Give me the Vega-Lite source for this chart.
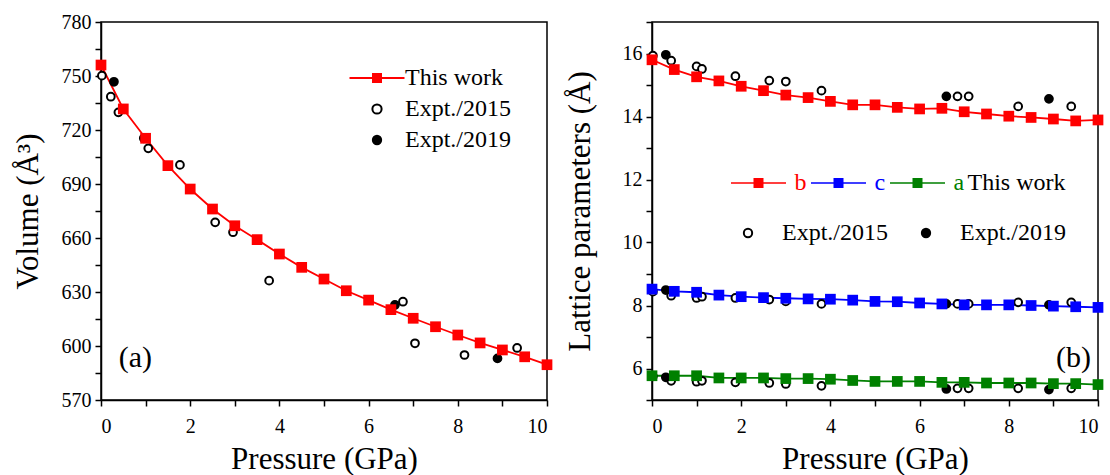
{
  "$schema": "https://vega.github.io/schema/vega-lite/v6.json",
  "background": "white",
  "padding": {"left": 11, "top": 11, "right": 0, "bottom": 0},
  "autosize": {"type": "pad"},
  "spacing": 105,
  "bounds": "flush",
  "datasets": {
    "vol": [
      {"p": 0, "v": 756.1, "src": "This work"},
      {"p": 0.5, "v": 731.7, "src": "This work"},
      {"p": 1, "v": 715.4, "src": "This work"},
      {"p": 1.5, "v": 700.2, "src": "This work"},
      {"p": 2, "v": 687.2, "src": "This work"},
      {"p": 2.5, "v": 676.1, "src": "This work"},
      {"p": 3, "v": 666.8, "src": "This work"},
      {"p": 3.5, "v": 659.1, "src": "This work"},
      {"p": 4, "v": 651.1, "src": "This work"},
      {"p": 4.5, "v": 643.7, "src": "This work"},
      {"p": 5, "v": 637.2, "src": "This work"},
      {"p": 5.5, "v": 630.7, "src": "This work"},
      {"p": 6, "v": 625.5, "src": "This work"},
      {"p": 6.5, "v": 620.2, "src": "This work"},
      {"p": 7, "v": 615.4, "src": "This work"},
      {"p": 7.5, "v": 610.7, "src": "This work"},
      {"p": 8, "v": 606.1, "src": "This work"},
      {"p": 8.5, "v": 601.7, "src": "This work"},
      {"p": 9, "v": 597.8, "src": "This work"},
      {"p": 9.5, "v": 594.0, "src": "This work"},
      {"p": 10, "v": 589.6, "src": "This work"},
      {"p": 0.02, "v": 750.2, "src": "Expt./2015"},
      {"p": 0.22, "v": 738.5, "src": "Expt./2015"},
      {"p": 0.39, "v": 729.8, "src": "Expt./2015"},
      {"p": 0.96, "v": 715.4, "src": "Expt./2015"},
      {"p": 1.06, "v": 709.8, "src": "Expt./2015"},
      {"p": 1.77, "v": 700.6, "src": "Expt./2015"},
      {"p": 2.56, "v": 668.7, "src": "Expt./2015"},
      {"p": 2.96, "v": 663.2, "src": "Expt./2015"},
      {"p": 3.77, "v": 636.3, "src": "Expt./2015"},
      {"p": 6.77, "v": 624.6, "src": "Expt./2015"},
      {"p": 7.04, "v": 601.5, "src": "Expt./2015"},
      {"p": 8.15, "v": 595.0, "src": "Expt./2015"},
      {"p": 9.33, "v": 598.9, "src": "Expt./2015"},
      {"p": 0.29, "v": 746.8, "src": "Expt./2019"},
      {"p": 6.59, "v": 622.8, "src": "Expt./2019"},
      {"p": 8.89, "v": 593.1, "src": "Expt./2019"}
    ],
    "lat": [
      {"p": 0, "v": 15.80, "param": "b", "src": "This work"},
      {"p": 0.5, "v": 15.49, "param": "b", "src": "This work"},
      {"p": 1, "v": 15.26, "param": "b", "src": "This work"},
      {"p": 1.5, "v": 15.13, "param": "b", "src": "This work"},
      {"p": 2, "v": 14.96, "param": "b", "src": "This work"},
      {"p": 2.5, "v": 14.82, "param": "b", "src": "This work"},
      {"p": 3, "v": 14.68, "param": "b", "src": "This work"},
      {"p": 3.5, "v": 14.60, "param": "b", "src": "This work"},
      {"p": 4, "v": 14.48, "param": "b", "src": "This work"},
      {"p": 4.5, "v": 14.37, "param": "b", "src": "This work"},
      {"p": 5, "v": 14.37, "param": "b", "src": "This work"},
      {"p": 5.5, "v": 14.29, "param": "b", "src": "This work"},
      {"p": 6, "v": 14.24, "param": "b", "src": "This work"},
      {"p": 6.5, "v": 14.26, "param": "b", "src": "This work"},
      {"p": 7, "v": 14.15, "param": "b", "src": "This work"},
      {"p": 7.5, "v": 14.08, "param": "b", "src": "This work"},
      {"p": 8, "v": 14.01, "param": "b", "src": "This work"},
      {"p": 8.5, "v": 13.97, "param": "b", "src": "This work"},
      {"p": 9, "v": 13.92, "param": "b", "src": "This work"},
      {"p": 9.5, "v": 13.86, "param": "b", "src": "This work"},
      {"p": 10, "v": 13.89, "param": "b", "src": "This work"},
      {"p": 0, "v": 8.52, "param": "c", "src": "This work"},
      {"p": 0.5, "v": 8.45, "param": "c", "src": "This work"},
      {"p": 1, "v": 8.42, "param": "c", "src": "This work"},
      {"p": 1.5, "v": 8.33, "param": "c", "src": "This work"},
      {"p": 2, "v": 8.28, "param": "c", "src": "This work"},
      {"p": 2.5, "v": 8.25, "param": "c", "src": "This work"},
      {"p": 3, "v": 8.23, "param": "c", "src": "This work"},
      {"p": 3.5, "v": 8.21, "param": "c", "src": "This work"},
      {"p": 4, "v": 8.20, "param": "c", "src": "This work"},
      {"p": 4.5, "v": 8.17, "param": "c", "src": "This work"},
      {"p": 5, "v": 8.13, "param": "c", "src": "This work"},
      {"p": 5.5, "v": 8.12, "param": "c", "src": "This work"},
      {"p": 6, "v": 8.08, "param": "c", "src": "This work"},
      {"p": 6.5, "v": 8.05, "param": "c", "src": "This work"},
      {"p": 7, "v": 8.02, "param": "c", "src": "This work"},
      {"p": 7.5, "v": 8.02, "param": "c", "src": "This work"},
      {"p": 8, "v": 8.02, "param": "c", "src": "This work"},
      {"p": 8.5, "v": 8.00, "param": "c", "src": "This work"},
      {"p": 9, "v": 7.98, "param": "c", "src": "This work"},
      {"p": 9.5, "v": 7.96, "param": "c", "src": "This work"},
      {"p": 10, "v": 7.94, "param": "c", "src": "This work"},
      {"p": 0, "v": 5.77, "param": "a", "src": "This work"},
      {"p": 0.5, "v": 5.77, "param": "a", "src": "This work"},
      {"p": 1, "v": 5.77, "param": "a", "src": "This work"},
      {"p": 1.5, "v": 5.70, "param": "a", "src": "This work"},
      {"p": 2, "v": 5.70, "param": "a", "src": "This work"},
      {"p": 2.5, "v": 5.70, "param": "a", "src": "This work"},
      {"p": 3, "v": 5.68, "param": "a", "src": "This work"},
      {"p": 3.5, "v": 5.68, "param": "a", "src": "This work"},
      {"p": 4, "v": 5.66, "param": "a", "src": "This work"},
      {"p": 4.5, "v": 5.62, "param": "a", "src": "This work"},
      {"p": 5, "v": 5.59, "param": "a", "src": "This work"},
      {"p": 5.5, "v": 5.59, "param": "a", "src": "This work"},
      {"p": 6, "v": 5.59, "param": "a", "src": "This work"},
      {"p": 6.5, "v": 5.56, "param": "a", "src": "This work"},
      {"p": 7, "v": 5.56, "param": "a", "src": "This work"},
      {"p": 7.5, "v": 5.54, "param": "a", "src": "This work"},
      {"p": 8, "v": 5.54, "param": "a", "src": "This work"},
      {"p": 8.5, "v": 5.54, "param": "a", "src": "This work"},
      {"p": 9, "v": 5.52, "param": "a", "src": "This work"},
      {"p": 9.5, "v": 5.52, "param": "a", "src": "This work"},
      {"p": 10, "v": 5.49, "param": "a", "src": "This work"},
      {"p": 0.02, "v": 15.93, "param": "b", "src": "Expt./2015"},
      {"p": 0.43, "v": 15.77, "param": "b", "src": "Expt./2015"},
      {"p": 1.0, "v": 15.59, "param": "b", "src": "Expt./2015"},
      {"p": 1.12, "v": 15.51, "param": "b", "src": "Expt./2015"},
      {"p": 1.87, "v": 15.28, "param": "b", "src": "Expt./2015"},
      {"p": 2.63, "v": 15.14, "param": "b", "src": "Expt./2015"},
      {"p": 3.0, "v": 15.11, "param": "b", "src": "Expt./2015"},
      {"p": 3.8, "v": 14.82, "param": "b", "src": "Expt./2015"},
      {"p": 6.85, "v": 14.64, "param": "b", "src": "Expt./2015"},
      {"p": 7.1, "v": 14.64, "param": "b", "src": "Expt./2015"},
      {"p": 8.21, "v": 14.32, "param": "b", "src": "Expt./2015"},
      {"p": 9.4, "v": 14.32, "param": "b", "src": "Expt./2015"},
      {"p": 0.31, "v": 15.96, "param": "b", "src": "Expt./2019"},
      {"p": 6.6, "v": 14.64, "param": "b", "src": "Expt./2019"},
      {"p": 8.9, "v": 14.56, "param": "b", "src": "Expt./2019"},
      {"p": 0.02, "v": 8.44, "param": "c", "src": "Expt./2015"},
      {"p": 0.43, "v": 8.31, "param": "c", "src": "Expt./2015"},
      {"p": 1.0, "v": 8.24, "param": "c", "src": "Expt./2015"},
      {"p": 1.12, "v": 8.28, "param": "c", "src": "Expt./2015"},
      {"p": 1.87, "v": 8.24, "param": "c", "src": "Expt./2015"},
      {"p": 2.63, "v": 8.19, "param": "c", "src": "Expt./2015"},
      {"p": 3.0, "v": 8.13, "param": "c", "src": "Expt./2015"},
      {"p": 3.8, "v": 8.05, "param": "c", "src": "Expt./2015"},
      {"p": 6.85, "v": 8.05, "param": "c", "src": "Expt./2015"},
      {"p": 7.1, "v": 8.05, "param": "c", "src": "Expt./2015"},
      {"p": 8.21, "v": 8.10, "param": "c", "src": "Expt./2015"},
      {"p": 9.4, "v": 8.10, "param": "c", "src": "Expt./2015"},
      {"p": 0.31, "v": 8.49, "param": "c", "src": "Expt./2019"},
      {"p": 6.6, "v": 8.05, "param": "c", "src": "Expt./2019"},
      {"p": 8.9, "v": 8.02, "param": "c", "src": "Expt./2019"},
      {"p": 0.02, "v": 5.75, "param": "a", "src": "Expt./2015"},
      {"p": 0.43, "v": 5.61, "param": "a", "src": "Expt./2015"},
      {"p": 1.0, "v": 5.58, "param": "a", "src": "Expt./2015"},
      {"p": 1.12, "v": 5.61, "param": "a", "src": "Expt./2015"},
      {"p": 1.87, "v": 5.56, "param": "a", "src": "Expt./2015"},
      {"p": 2.63, "v": 5.54, "param": "a", "src": "Expt./2015"},
      {"p": 3.0, "v": 5.51, "param": "a", "src": "Expt./2015"},
      {"p": 3.8, "v": 5.45, "param": "a", "src": "Expt./2015"},
      {"p": 6.85, "v": 5.37, "param": "a", "src": "Expt./2015"},
      {"p": 7.1, "v": 5.37, "param": "a", "src": "Expt./2015"},
      {"p": 8.21, "v": 5.37, "param": "a", "src": "Expt./2015"},
      {"p": 9.4, "v": 5.37, "param": "a", "src": "Expt./2015"},
      {"p": 0.31, "v": 5.72, "param": "a", "src": "Expt./2019"},
      {"p": 6.6, "v": 5.35, "param": "a", "src": "Expt./2019"},
      {"p": 8.9, "v": 5.33, "param": "a", "src": "Expt./2019"}
    ]
  },
  "resolve": {
    "scale": {"x": "independent", "y": "independent", "color": "independent", "fill": "independent", "stroke": "independent", "shape": "independent", "size": "independent"},
    "legend": {"color": "independent", "fill": "independent", "stroke": "independent", "shape": "independent", "size": "independent"}
  },
  "hconcat": [
    {
      "width": 446,
      "height": 378,
      "encoding": {
        "x": {"field": "p", "type": "quantitative", "scale": {"domain": [0, 10], "nice": false},
          "axis": {"title": "Pressure (GPa)", "values": [0,1,2,3,4,5,6,7,8,9,10], "labelExpr": "datum.value % 2 === 0 ? datum.label : ''", "labelPadding": 10, "titlePadding": 8}},
        "y": {"field": "v", "type": "quantitative", "scale": {"domain": [570, 780], "nice": false, "zero": false},
          "axis": {"title": "Volume (Å³)", "values": [570,585,600,615,630,645,660,675,690,705,720,735,750,765,780], "labelExpr": "(datum.value - 570) % 30 === 0 ? datum.label : ''", "titlePadding": 17}}
      },
      "layer": [
        {
          "data": {"name": "vol"},
          "transform": [{"filter": "datum.src === 'This work'"}],
          "mark": {"type": "line", "color": "#ff0000", "strokeWidth": 1.8}
        },
        {
          "data": {"name": "vol"},
          "transform": [{"filter": "datum.src === 'Expt./2015'"}],
          "mark": {"type": "point", "shape": "circle", "size": 60, "fill": "#ffffff", "stroke": "#000000", "strokeWidth": 2, "opacity": 1}
        },
        {
          "data": {"name": "vol"},
          "transform": [{"filter": "datum.src === 'Expt./2019'"}],
          "mark": {"type": "point", "shape": "circle", "size": 60, "fill": "#000000", "stroke": "#000000", "strokeWidth": 2, "opacity": 1}
        },
        {
          "data": {"name": "vol"},
          "transform": [{"filter": "datum.src === 'This work'"}],
          "mark": {"type": "point", "shape": "square", "size": 115, "fill": "#ff0000", "strokeWidth": 0, "opacity": 1}
        },
        {
          "data": {"name": "vol"},
          "transform": [{"filter": "false"}],
          "mark": {"type": "point", "strokeWidth": 2, "opacity": 1},
          "encoding": {
            "fill": {"field": "src", "type": "nominal",
              "scale": {"domain": ["This work", "Expt./2015", "Expt./2019"], "range": ["#ff0000", "#ffffff", "#000000"]},
              "legend": {
                "title": null, "orient": "none", "direction": "vertical", "legendX": 264, "legendY": 44,
                "symbolSize": 100, "symbolStrokeWidth": 2, "labelOffset": 16, "rowPadding": 7,
                "labelFont": "Liberation Serif", "labelFontSize": 24, "labelColor": "#000000"
              }},
            "stroke": {"field": "src", "type": "nominal",
              "scale": {"domain": ["This work", "Expt./2015", "Expt./2019"], "range": ["#ff0000", "#000000", "#000000"]}},
            "shape": {"field": "src", "type": "nominal",
              "scale": {"domain": ["This work", "Expt./2015", "Expt./2019"], "range": ["M-5.5,0H5.5M-0.8,-0.8H0.8V0.8H-0.8Z", "circle", "circle"]}},
            "size": {"field": "src", "type": "ordinal",
              "scale": {"domain": ["This work", "Expt./2015", "Expt./2019"], "range": [100, 70, 70]}}
          }
        },
        {
          "data": {"name": "vol"},
          "transform": [{"filter": "datum.src === 'This work' && datum.p === 0"}],
          "mark": {"type": "text", "text": "(a)", "font": "Liberation Serif", "fontSize": 30, "align": "center", "baseline": "middle", "fill": "#000000"},
          "encoding": {"x": {"datum": 0.77}, "y": {"datum": 593.3}}
        }
      ]
    },
    {
      "width": 446,
      "height": 378,
      "resolve": {
        "scale": {"color": "independent", "fill": "independent", "stroke": "independent", "shape": "independent"},
        "legend": {"color": "independent", "fill": "independent", "stroke": "independent", "shape": "independent"}
      },
      "encoding": {
        "x": {"field": "p", "type": "quantitative", "scale": {"domain": [0, 10], "nice": false},
          "axis": {"title": "Pressure (GPa)", "values": [0,1,2,3,4,5,6,7,8,9,10], "labelExpr": "datum.value % 2 === 0 ? datum.label : ''", "labelPadding": 10, "titlePadding": 8}},
        "y": {"field": "v", "type": "quantitative", "scale": {"domain": [5, 17], "nice": false, "zero": false},
          "axis": {"title": "Lattice parameters (Å)", "values": [5,6,7,8,9,10,11,12,13,14,15,16,17], "labelExpr": "datum.value % 2 === 0 ? datum.label : ''", "titlePadding": 26}}
      },
      "layer": [
        {
          "data": {"name": "lat"},
          "transform": [{"filter": "datum.src === 'This work'"}],
          "mark": {"type": "line", "strokeWidth": 1.8},
          "encoding": {
            "stroke": {"field": "param", "type": "nominal",
              "scale": {"domain": ["b", "c", "a"], "range": ["#ff0000", "#0000ff", "#008000"]}, "legend": null},
            "detail": {"field": "param"}
          }
        },
        {
          "data": {"name": "lat"},
          "transform": [{"filter": "datum.src === 'Expt./2015'"}],
          "mark": {"type": "point", "shape": "circle", "size": 60, "fill": "#ffffff", "stroke": "#000000", "strokeWidth": 2, "opacity": 1}
        },
        {
          "data": {"name": "lat"},
          "transform": [{"filter": "datum.src === 'Expt./2019'"}],
          "mark": {"type": "point", "shape": "circle", "size": 60, "fill": "#000000", "stroke": "#000000", "strokeWidth": 2, "opacity": 1}
        },
        {
          "data": {"name": "lat"},
          "transform": [{"filter": "datum.src === 'This work'"}],
          "mark": {"type": "point", "shape": "square", "size": 115, "strokeWidth": 0, "opacity": 1},
          "encoding": {
            "fill": {"field": "param", "type": "nominal",
              "scale": {"domain": ["b", "c", "a"], "range": ["#ff0000", "#0000ff", "#008000"]}, "legend": null}
          }
        },
        {
          "data": {"name": "lat"},
          "transform": [{"filter": "false"}],
          "mark": {"type": "point", "filled": true, "strokeWidth": 0, "opacity": 1},
          "encoding": {
            "color": {"field": "param", "type": "nominal",
              "scale": {"domain": ["b", "c", "a"], "range": ["#ff0000", "#0000ff", "#008000"]},
              "legend": {
                "title": "This work", "titleOrient": "right", "titleFont": "Liberation Serif", "titleFontSize": 24,
                "titleFontWeight": "normal", "titleColor": "#000000", "titlePadding": 3,
                "orient": "none", "direction": "horizontal", "legendX": 94.5, "legendY": 149,
                "symbolSize": 100, "labelOffset": 24, "columnPadding": 4,
                "labelFont": "Liberation Serif", "labelFontSize": 24,
                "labelColor": {"expr": "datum.value === 'b' ? '#ff0000' : datum.value === 'c' ? '#0000ff' : '#008000'"}
              }},
            "shape": {"field": "param", "type": "nominal",
              "scale": {"domain": ["b", "c", "a"], "range": ["M-5.5,-0.16H5.5V0.16H-5.5Z M-1,-1H1V1H-1Z", "M-5.5,-0.16H5.5V0.16H-5.5Z M-1,-1H1V1H-1Z", "M-5.5,-0.16H5.5V0.16H-5.5Z M-1,-1H1V1H-1Z"]}}
          }
        },
        {
          "data": {"name": "lat"},
          "transform": [{"filter": "false"}],
          "mark": {"type": "point", "shape": "circle", "stroke": "#000000", "strokeWidth": 2, "opacity": 1},
          "encoding": {
            "fill": {"field": "src", "type": "nominal",
              "scale": {"domain": ["Expt./2015", "Expt./2019"], "range": ["#ffffff", "#000000"]},
              "legend": {
                "title": null, "orient": "none", "direction": "horizontal", "legendX": 84, "legendY": 199,
                "symbolSize": 70, "symbolStrokeWidth": 2, "symbolStrokeColor": "#000000", "labelOffset": 22, "columnPadding": 26,
                "labelFont": "Liberation Serif", "labelFontSize": 24, "labelColor": "#000000"
              }}
          }
        },
        {
          "data": {"name": "lat"},
          "transform": [{"filter": "datum.src === 'This work' && datum.p === 0 && datum.param === 'a'"}],
          "mark": {"type": "text", "text": "(b)", "font": "Liberation Serif", "fontSize": 30, "align": "center", "baseline": "middle", "fill": "#000000"},
          "encoding": {"x": {"datum": 9.45}, "y": {"datum": 6.32}}
        }
      ]
    }
  ],
  "config": {
    "font": "Liberation Serif",
    "view": {"stroke": "#000000", "strokeWidth": 1.5},
    "axis": {
      "labelFont": "Liberation Serif", "labelFontSize": 20, "labelColor": "#000000",
      "titleFont": "Liberation Serif", "titleFontSize": 31, "titleFontWeight": "normal", "titleColor": "#000000",
      "domainColor": "#000000", "domainWidth": 1.5, "tickColor": "#000000", "tickWidth": 1.5, "tickSize": 6,
      "grid": false, "labelPadding": 4
    }
  }
}
